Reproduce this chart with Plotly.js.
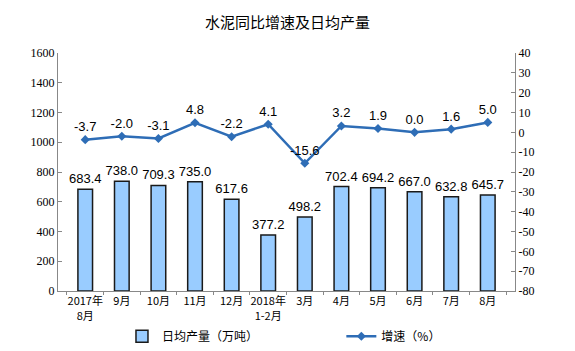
<!DOCTYPE html>
<html><head><meta charset="utf-8">
<script src="https://cdn.plot.ly/plotly-3.0.1.min.js"></script>
<style>html,body{margin:0;padding:0;background:#fff}#c{width:575px;height:351px}</style>
</head><body><div id="c"></div>
<script>
var categories = ["2017年<br>8月","9月","10月","11月","12月","2018年<br>1-2月","3月","4月","5月","6月","7月","8月"];
var output = [683.4,738.0,709.3,735.0,617.6,377.2,498.2,702.4,694.2,667.0,632.8,645.7];
var growth = [-3.7,-2.0,-3.1,4.8,-2.2,4.1,-15.6,3.2,1.9,0.0,1.6,5.0];
var leftTicks = [0,200,400,600,800,1000,1200,1400,1600];
var rightTicks = [-80,-70,-60,-50,-40,-30,-20,-10,0,10,20,30,40];

var cjk = '"Noto Sans CJK SC", sans-serif';
var numFont = {family:'"Liberation Sans", Arial, sans-serif', size:13, color:'#000'};
var traces = [
  {type:'bar', x:categories, y:output, name:'日均产量（万吨）', width:0.4,
   marker:{color:'#99CCFF', line:{color:'#1a1a1a', width:1.5}},
   text:output.map(function(v){return v.toFixed(1);}), textposition:'outside', constraintext:'none',
   textfont:numFont, cliponaxis:false, yaxis:'y', hoverinfo:'none', legend:'legend'},
  {type:'scatter', mode:'lines+markers+text', x:categories, y:growth, name:'增速（%）', yaxis:'y2',
   line:{color:'#2E6DB6', width:2.5}, marker:{symbol:'diamond', size:7, color:'#2E6DB6'},
   text:growth.map(function(v){return v.toFixed(1);}), textposition:'top center',
   textfont:numFont, cliponaxis:false, hoverinfo:'none', legend:'legend2'}
];
var legBase = {orientation:'h', yanchor:'middle', y:-0.19, xanchor:'left',
  font:{family:cjk, size:12, color:'#000'}, itemwidth:30, bgcolor:'rgba(0,0,0,0)'};
var layout = {
  width:575, height:351, margin:{l:58, r:60, t:53, b:60, autoexpand:false},
  paper_bgcolor:'#fff', plot_bgcolor:'#fff', showlegend:true,
  title:{text:'水泥同比增速及日均产量', font:{family:cjk, size:15, color:'#000'}, x:0.5, xanchor:'center', y:0.935, yanchor:'middle'},
  xaxis:{type:'category', showgrid:false, showline:true, linecolor:'#888', linewidth:1,
    ticks:'outside', tickson:'boundaries', ticklen:3, tickcolor:'#888', tickangle:0,
    tickfont:{family:cjk, size:11, color:'#000'}, fixedrange:true},
  yaxis:{range:[0,1600], tickvals:leftTicks, ticktext:leftTicks.map(String), showgrid:false, zeroline:false,
    showline:true, linecolor:'#888', linewidth:1, ticks:'inside', ticklen:4, tickcolor:'#888',
    tickfont:{family:'"Liberation Serif", serif', size:12, color:'#000'}},
  yaxis2:{range:[-80,40], tickvals:rightTicks, ticktext:rightTicks.map(String), overlaying:'y', side:'right',
    showgrid:false, zeroline:false, showline:true, linecolor:'#888', linewidth:1, ticks:'inside', ticklen:4, tickcolor:'#888',
    tickfont:{family:'"Liberation Serif", serif', size:12, color:'#000'}},
  legend:Object.assign({}, legBase, {x:0.14}),
  legend2:Object.assign({}, legBase, {x:0.62})
};
Plotly.newPlot('c', traces, layout, {displayModeBar:false, staticPlot:true});
</script></body></html>
